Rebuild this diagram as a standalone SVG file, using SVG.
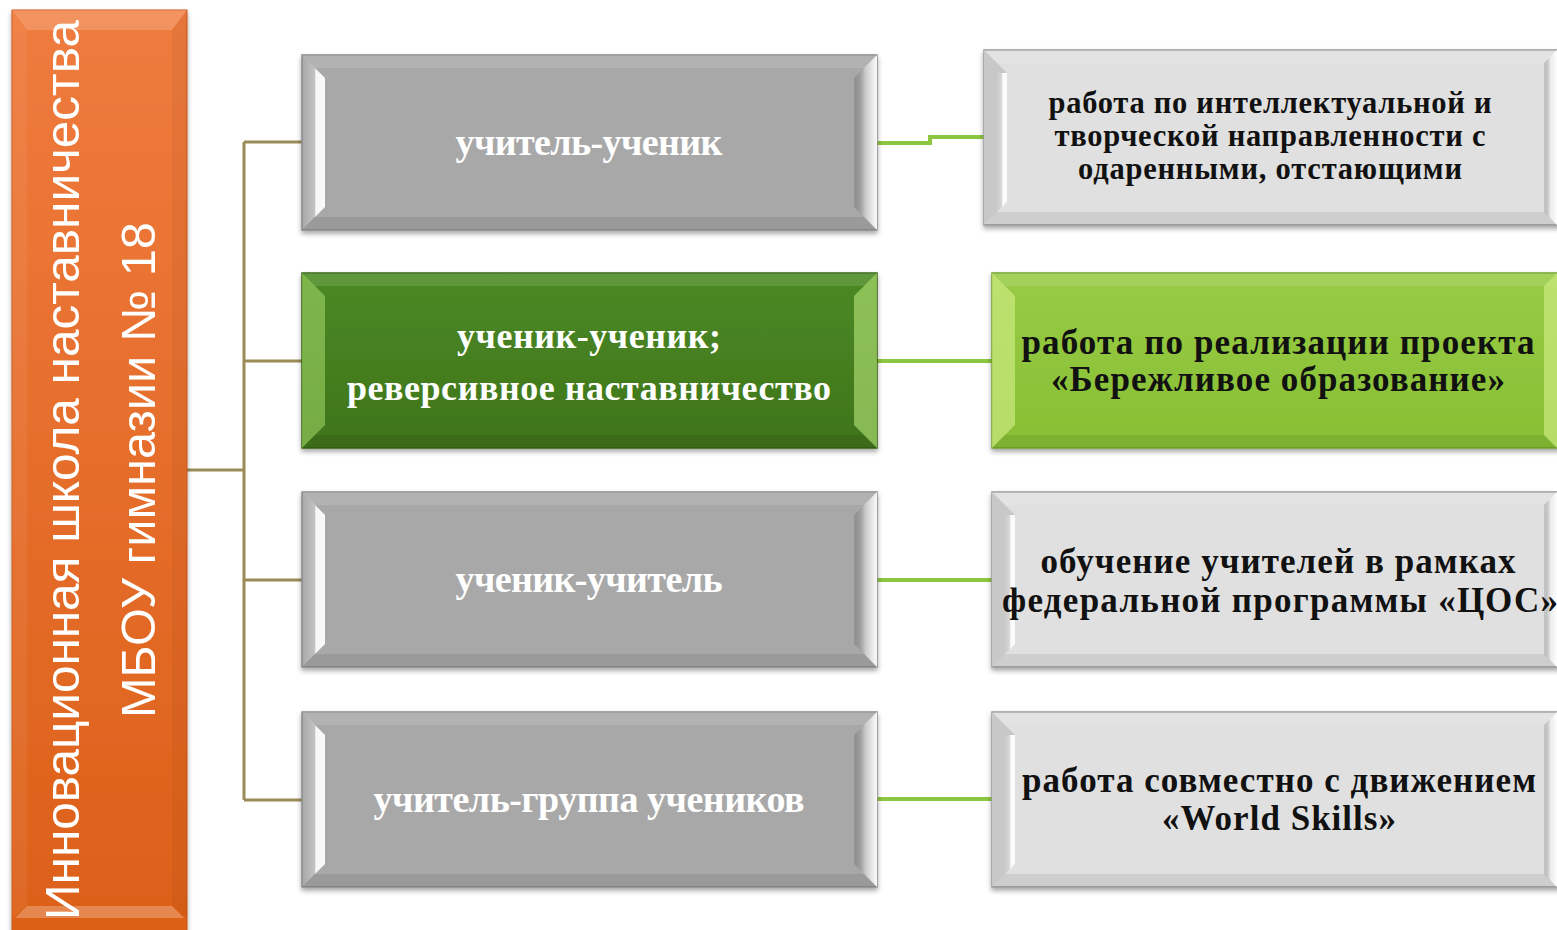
<svg xmlns="http://www.w3.org/2000/svg" width="1557" height="930" viewBox="0 0 1557 930">
<defs>
<filter id="sh" x="-5%" y="-5%" width="110%" height="115%"><feDropShadow dx="0" dy="3" stdDeviation="2.5" flood-color="#000" flood-opacity="0.35"/></filter>
<linearGradient id="gL" x1="0" y1="0" x2="1" y2="0"><stop offset="0" stop-color="#fff" stop-opacity="0"/><stop offset="0.55" stop-color="#fff" stop-opacity="0.3"/><stop offset="0.6" stop-color="#fff" stop-opacity="0.9"/><stop offset="1" stop-color="#fff" stop-opacity="0.95"/></linearGradient>
<linearGradient id="gR" x1="0" y1="0" x2="1" y2="0"><stop offset="0" stop-color="#000" stop-opacity="0.12"/><stop offset="0.5" stop-color="#fff" stop-opacity="0.4"/><stop offset="1" stop-color="#fff" stop-opacity="0.95"/></linearGradient>
<linearGradient id="orange" x1="0" y1="0" x2="0" y2="1"><stop offset="0" stop-color="#ef7b3e"/><stop offset="1" stop-color="#dc6018"/></linearGradient>
<linearGradient id="dgreen" x1="0" y1="0" x2="0" y2="1"><stop offset="0" stop-color="#4b8a23"/><stop offset="1" stop-color="#3f741c"/></linearGradient>
<linearGradient id="lgreen" x1="0" y1="0" x2="0" y2="1"><stop offset="0" stop-color="#98cb45"/><stop offset="1" stop-color="#87bf33"/></linearGradient>
</defs>
<style>
.tw{font-family:"Liberation Serif","Times New Roman",serif;font-weight:bold;fill:#fff;text-anchor:middle}
.tb{font-family:"Liberation Serif","Times New Roman",serif;font-weight:bold;fill:#111;text-anchor:middle}
.ts{font-family:"Liberation Sans",Arial,sans-serif;fill:#fff;text-anchor:middle}
.top{fill:#fff;fill-opacity:0.12}
.bot{fill:#000;fill-opacity:0.08}
.lb{fill:url(#gL)}
.rb{fill:url(#gR)}
.olive{stroke:#9a8c57;stroke-width:3;fill:none}
.green{stroke:#8dc63f;stroke-width:4;fill:none}
</style>

<g id="connectors">
<path class="olive" d="M187 470 H244 M244 142 V800 M244 142 H302 M244 361 H302 M244 580 H302 M244 800 H302"/>
<path class="green" d="M877 143 H930 V137 H984"/>
<path class="green" d="M877 361 H992"/>
<path class="green" d="M877 580 H992"/>
<path class="green" d="M877 799 H992"/>
</g>

<g id="root">
<rect x="12" y="10" width="175" height="925" fill="url(#orange)" stroke="#c9581a" stroke-width="1" filter="url(#sh)"/>
<polygon points="12,10 187,10 172,30 27,30" fill="#fff" fill-opacity="0.18"/>
<polygon points="12,10 27,30 27,906 12,918" fill="#fff" fill-opacity="0.06"/>
<polygon points="187,10 172,30 172,906 187,918" fill="#000" fill-opacity="0.04"/>
<polygon points="27,906 172,906 184,918 15,918" fill="#fff" fill-opacity="0.25"/>
<text class="ts" font-size="48" transform="translate(79,470) rotate(-90)" textLength="900" lengthAdjust="spacingAndGlyphs">Инновационная школа наставничества</text>
<text class="ts" font-size="48" transform="translate(155,470) rotate(-90)" textLength="496" lengthAdjust="spacingAndGlyphs">МБОУ гимназии № 18</text>
</g>

<g id="n1">
<rect x="302" y="55" width="575" height="175" fill="#a8a8a8" stroke="#8a8a8a" stroke-width="1.5" filter="url(#sh)"/>
<polygon class="top" points="302,55 877,55 865,68 314,68"/>
<polygon class="bot" points="314,217 865,217 877,230 302,230"/>
<polygon class="lb" points="302,55 325,78 325,207 302,230"/>
<polygon class="rb" points="877,55 854,78 854,207 877,230"/>
<text class="tw" x="589" y="155" font-size="38" textLength="267">учитель-ученик</text>
</g>

<g id="n2">
<rect x="302" y="273" width="575" height="175" fill="url(#dgreen)" stroke="#356316" stroke-width="1.5" filter="url(#sh)"/>
<polygon class="top" points="302,273 877,273 865,286 314,286"/>
<polygon class="bot" points="314,435 865,435 877,448 302,448"/>
<polygon points="302,273 325,296 325,425 302,448" fill="#a6db6a" fill-opacity="0.55"/>
<polygon points="877,273 854,296 854,425 877,448" fill="#b8e67a" fill-opacity="0.6"/>
<text class="tw" x="589" y="348" font-size="36" textLength="264">ученик-ученик;</text>
<text class="tw" x="589" y="400" font-size="36" textLength="484">реверсивное наставничество</text>
</g>

<g id="n3">
<rect x="302" y="492" width="575" height="175" fill="#a8a8a8" stroke="#8a8a8a" stroke-width="1.5" filter="url(#sh)"/>
<polygon class="top" points="302,492 877,492 865,505 314,505"/>
<polygon class="bot" points="314,654 865,654 877,667 302,667"/>
<polygon class="lb" points="302,492 325,515 325,644 302,667"/>
<polygon class="rb" points="877,492 854,515 854,644 877,667"/>
<text class="tw" x="589" y="592" font-size="38" textLength="267">ученик-учитель</text>
</g>

<g id="n4">
<rect x="302" y="712" width="575" height="175" fill="#a8a8a8" stroke="#8a8a8a" stroke-width="1.5" filter="url(#sh)"/>
<polygon class="top" points="302,712 877,712 865,725 314,725"/>
<polygon class="bot" points="314,874 865,874 877,887 302,887"/>
<polygon class="lb" points="302,712 325,735 325,864 302,887"/>
<polygon class="rb" points="877,712 854,735 854,864 877,887"/>
<text class="tw" x="589" y="812" font-size="38" textLength="431">учитель-группа учеников</text>
</g>

<g id="r1">
<rect x="984" y="50" width="580" height="175" fill="#e0e0e0" stroke="#9a9a9a" stroke-width="1.5" filter="url(#sh)"/>
<polygon class="top" points="984,50 1557,50 1545,63 996,63"/>
<polygon class="bot" points="996,212 1545,212 1557,225 984,225"/>
<polygon points="984,50 1007,73 1007,202 984,225" fill="#c8c8c8"/>
<polygon class="lb" points="996,73 1007,73 1007,202 996,214"/>
<polygon class="rb" points="1557,50 1544,63 1544,212 1557,225"/>
<text class="tb" x="1270" y="113" font-size="30.5" textLength="443">работа по интеллектуальной и</text>
<text class="tb" x="1270" y="146" font-size="30.5" textLength="431">творческой направленности с</text>
<text class="tb" x="1270" y="179" font-size="30.5" textLength="384">одаренными, отстающими</text>
</g>

<g id="r2">
<rect x="992" y="273" width="572" height="175" fill="url(#lgreen)" stroke="#72a22a" stroke-width="1.5" filter="url(#sh)"/>
<polygon class="top" points="992,273 1557,273 1545,286 1004,286"/>
<polygon class="bot" points="1004,435 1545,435 1557,448 992,448"/>
<polygon points="992,273 1015,296 1015,425 992,448" fill="#d7f08a" fill-opacity="0.6"/>
<polygon points="1557,273 1544,286 1544,435 1557,448" fill="#d7f08a" fill-opacity="0.6"/>
<text class="tb" x="1278" y="354" font-size="35" textLength="513">работа по реализации проекта</text>
<text class="tb" x="1278" y="391" font-size="35" textLength="454">«Бережливое образование»</text>
</g>

<g id="r3">
<rect x="992" y="492" width="572" height="175" fill="#e0e0e0" stroke="#9a9a9a" stroke-width="1.5" filter="url(#sh)"/>
<polygon class="top" points="992,492 1557,492 1545,505 1004,505"/>
<polygon class="bot" points="1004,654 1545,654 1557,667 992,667"/>
<polygon points="992,492 1015,515 1015,644 992,667" fill="#c8c8c8"/>
<polygon class="lb" points="1004,515 1015,515 1015,644 1004,656"/>
<polygon class="rb" points="1557,492 1544,505 1544,654 1557,667"/>
<text class="tb" x="1278" y="573" font-size="35" textLength="475">обучение учителей в рамках</text>
<text class="tb" x="1280" y="612" font-size="35" textLength="556">федеральной программы «ЦОС»</text>
</g>

<g id="r4">
<rect x="992" y="712" width="572" height="175" fill="#e0e0e0" stroke="#9a9a9a" stroke-width="1.5" filter="url(#sh)"/>
<polygon class="top" points="992,712 1557,712 1545,725 1004,725"/>
<polygon class="bot" points="1004,874 1545,874 1557,887 992,887"/>
<polygon points="992,712 1015,735 1015,864 992,887" fill="#c8c8c8"/>
<polygon class="lb" points="1004,735 1015,735 1015,864 1004,876"/>
<polygon class="rb" points="1557,712 1544,725 1544,874 1557,887"/>
<text class="tb" x="1279" y="792" font-size="35" textLength="514">работа совместно с движением</text>
<text class="tb" x="1279" y="830" font-size="35" textLength="234">«World Skills»</text>
</g>
</svg>
